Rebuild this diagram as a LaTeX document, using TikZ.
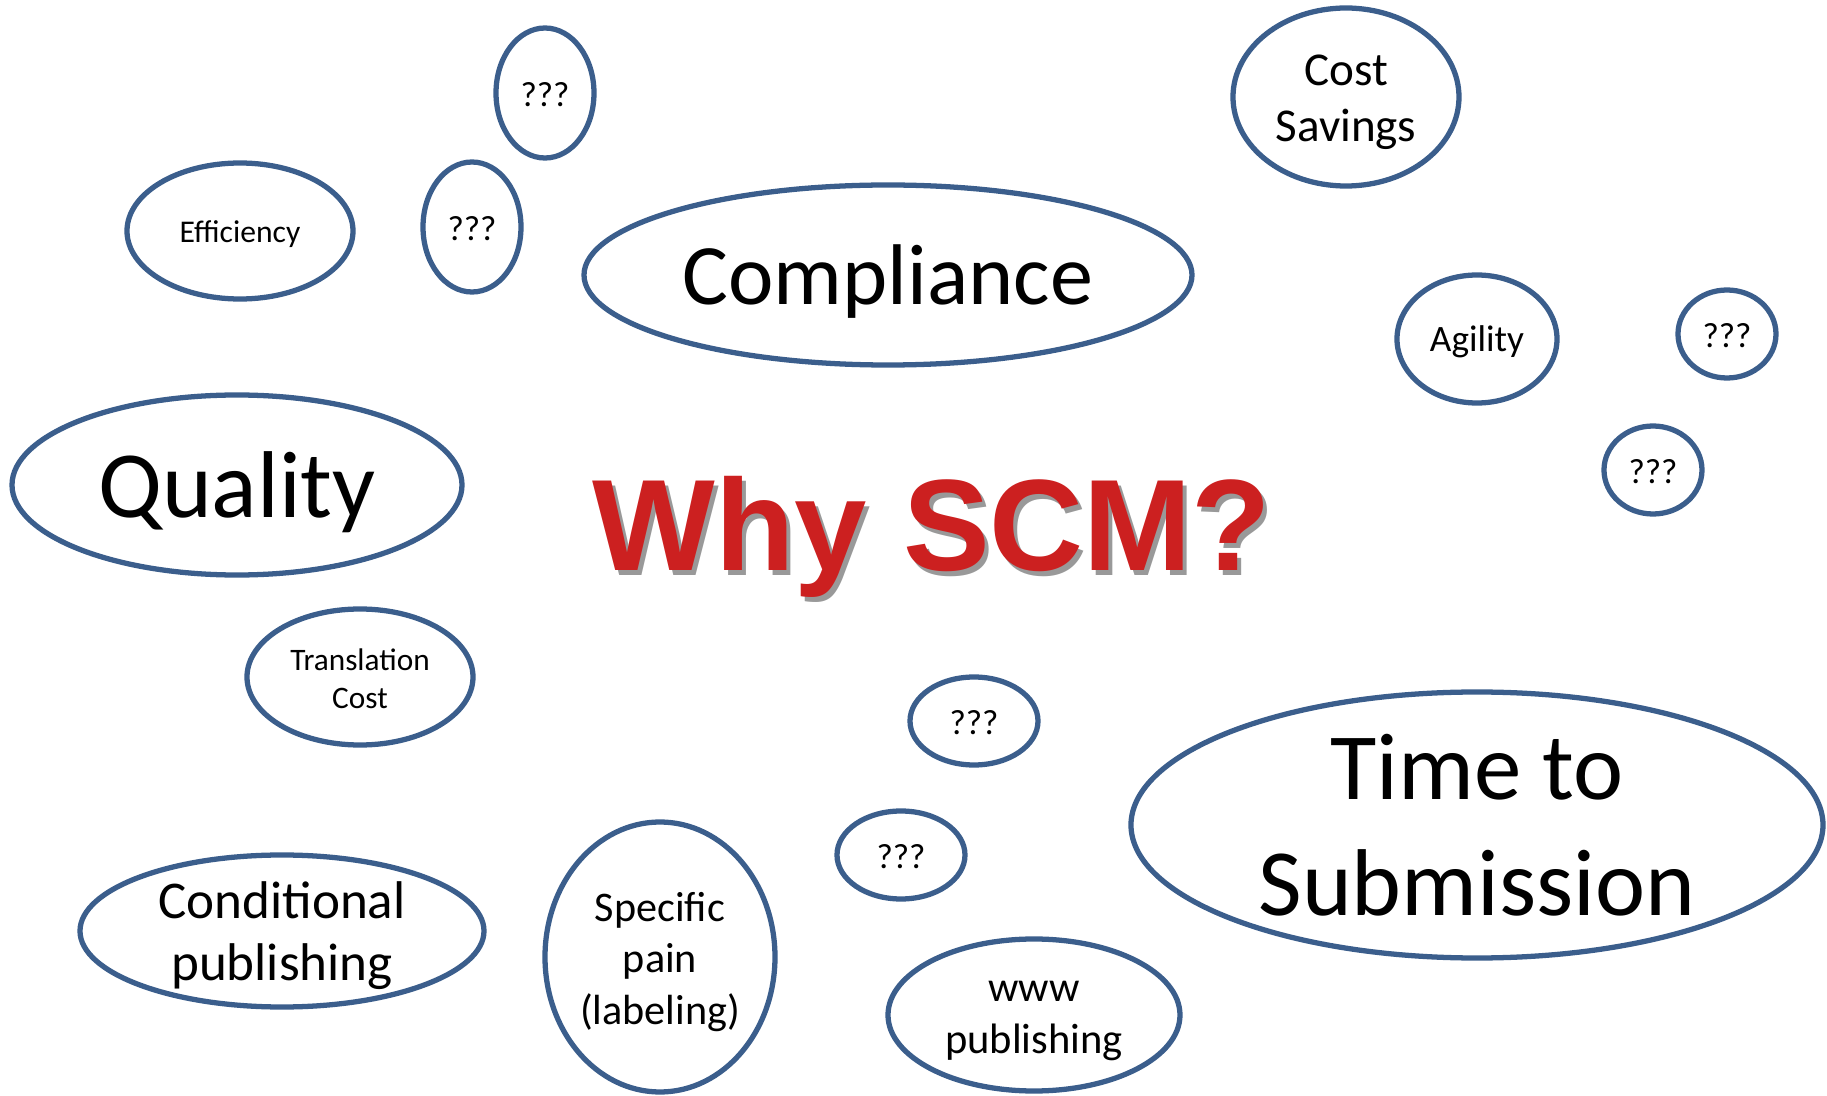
\documentclass[tikz,border=0pt]{standalone}
\usepackage{fontspec}
\setmainfont{Carlito}
\newfontfamily\headfont{Liberation Sans}
\usetikzlibrary{calc}
\definecolor{bubbleblue}{RGB}{59,94,140}
\definecolor{scmred}{RGB}{204,32,32}
\tikzset{bubble/.style={draw=bubbleblue, line width=1.5pt, fill=white}}

\begin{document}
\begin{tikzpicture}[x=0.1mm, y=-0.1mm]
            \useasboundingbox (0,0) rectangle (1827,1096);
            % top left group
            \draw[bubble] (545,93) ellipse [x radius=49, y radius=65];
            \node[font=\fontsize{10}{12}\selectfont] (qtop) at (545,95) {???};
            \draw[bubble] (240,231) ellipse [x radius=113, y radius=68];
            \node[font=\fontsize{9}{11}\selectfont] (effic) at (240,234) {Efficiency};
            \draw[bubble] (472,227) ellipse [x radius=49, y radius=65];
            \node[font=\fontsize{10}{12}\selectfont] (qleft) at (472,229) {???};
            \draw[bubble] (888,275) ellipse [x radius=304, y radius=90];
            \node[font=\fontsize{24.5}{29}\selectfont] (compl) at (888,282) {Compliance};
            % top right group
            \draw[bubble] (1346,97) ellipse [x radius=113, y radius=89];
            \node[font=\fontsize{13.4}{15.9}\selectfont, align=center] (cost) at (1346,102) {Cost\\Savings};
            \draw[bubble] (1477,339) ellipse [x radius=80, y radius=64];
            \node[font=\fontsize{10.6}{13}\selectfont] (agil) at (1477,342) {Agility};
            \draw[bubble] (1727,334) ellipse [x radius=49, y radius=44];
            \node[font=\fontsize{10}{12}\selectfont] (qright) at (1727,336) {???};
            \draw[bubble] (1653,470) ellipse [x radius=49, y radius=44];
            \node[font=\fontsize{10}{12}\selectfont] (qrlow) at (1653,472) {???};
            % left side
            \draw[bubble] (237,485) ellipse [x radius=225, y radius=90];
            \node[font=\fontsize{27}{33}\selectfont] (qual) at (237,492) {Quality};
            \draw[bubble] (360,677) ellipse [x radius=113, y radius=68];
            \node[font=\fontsize{8.9}{10.7}\selectfont, align=center] (trans) at (360,679) {Translation\\Cost};
            % bottom group
            \draw[bubble] (974,721) ellipse [x radius=64, y radius=44];
            \node[font=\fontsize{10}{12}\selectfont] (qmid) at (974,723) {???};
            \draw[bubble] (901,855) ellipse [x radius=64, y radius=44];
            \node[font=\fontsize{10}{12}\selectfont] (qlow) at (901,857) {???};
            \draw[bubble] (1477,825) ellipse [x radius=346, y radius=133];
            \node[font=\fontsize{27}{33}\selectfont, align=center] (tts) at (1477,825) {Time to\\Submission};
            \draw[bubble] (282,931) ellipse [x radius=202, y radius=76];
            \node[font=\fontsize{15.1}{17.6}\selectfont, align=center] (cond) at (282,936) {Conditional\\publishing};
            \draw[bubble] (660,957) ellipse [x radius=115, y radius=135];
            \node[font=\fontsize{12}{14.6}\selectfont, align=center] (pain) at (660,962) {Specific\\pain\\(labeling)};
            \draw[bubble] (1034,1015) ellipse [x radius=146, y radius=76];
            \node[font=\fontsize{12.1}{14.6}\selectfont, align=center] (www) at (1034,1021) {www\\publishing};
            % title
            \node[anchor=base, text=black!40, font=\headfont\bfseries\fontsize{37}{44}\selectfont] (shadow) at (936,576) {Why SCM?};
            \node[anchor=base, text=scmred, font=\headfont\bfseries\fontsize{37}{44}\selectfont] (title) at (932,571) {Why SCM?};
        \end{tikzpicture}
\end{document}
